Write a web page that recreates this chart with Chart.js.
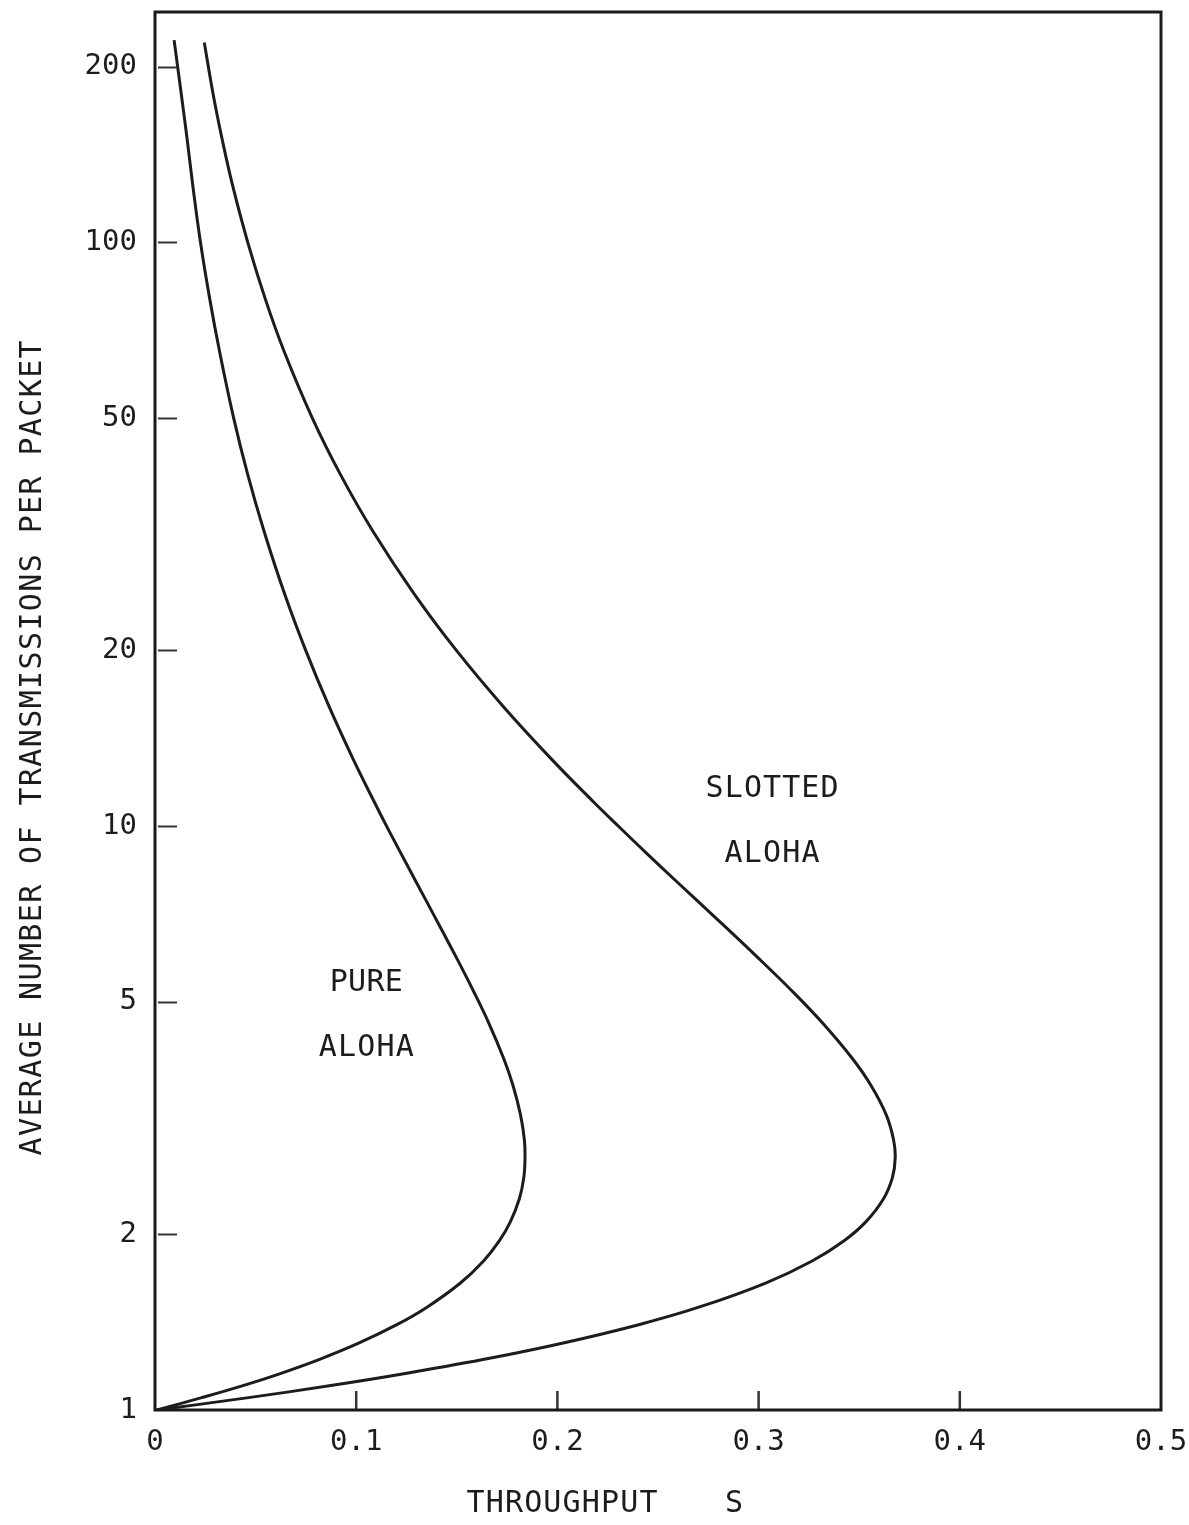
<!DOCTYPE html>
<html>
<head>
<meta charset="utf-8">
<script src="https://cdn.jsdelivr.net/npm/chart.js@4.4.1/dist/chart.umd.min.js"></script>
<style>
  html, body { margin: 0; padding: 0; background: #ffffff; }
  #wrap { width: 1189px; height: 1525px; position: relative; }
</style>
</head>
<body>
<div id="wrap"><canvas id="c" width="1189" height="1525"></canvas></div>
<script>
// Axis ticks
const yTicks = [1, 2, 5, 10, 20, 50, 100, 200];
const xTicks = [0, 0.1, 0.2, 0.3, 0.4, 0.5];
const xTickLabels = ['0', '0.1', '0.2', '0.3', '0.4', '0.5'];

// Pure ALOHA: average transmissions per packet (N) against throughput (S)
const pureN = [222, 180, 150, 125, 100, 80, 65, 50, 40, 32, 25, 20, 16, 13, 11, 10, 9, 8, 7, 6, 5.2, 4.6,
               4.0, 3.6, 3.2, 2.9, 2.7, 2.5, 2.3, 2.1, 1.95, 1.8, 1.65, 1.5, 1.4, 1.3, 1.22, 1.15, 1.1,
               1.05, 1.0];
const pureS = [0.0095, 0.0130, 0.0160, 0.0188, 0.0226, 0.0272, 0.0321, 0.0391, 0.0461, 0.0542, 0.0644,
               0.0749, 0.0866, 0.0986, 0.1090, 0.1151, 0.1221, 0.1300, 0.1390, 0.1493, 0.1585, 0.1659,
               0.1733, 0.1779, 0.1817, 0.1836, 0.1839, 0.1833, 0.1811, 0.1766, 0.1712, 0.1633, 0.1518,
               0.1352, 0.1202, 0.1009, 0.0815, 0.0608, 0.0433, 0.0232, 0.001];

// Slotted ALOHA
const slottedN = [220, 180, 150, 125, 100, 80, 65, 50, 40, 32, 25, 20, 16, 13, 11, 10, 9, 8, 7, 6, 5.2,
                  4.6, 4.0, 3.6, 3.2, 2.9, 2.7, 2.5, 2.3, 2.1, 1.95, 1.8, 1.65, 1.5, 1.4, 1.3, 1.22, 1.15,
                  1.1, 1.05, 1.0];
const slottedS = [0.0245, 0.0288, 0.0334, 0.0386, 0.0461, 0.0548, 0.0642, 0.0782, 0.0922, 0.1083, 0.1288,
                  0.1498, 0.1733, 0.1973, 0.2180, 0.2303, 0.2441, 0.2599, 0.2780, 0.2986, 0.3171, 0.3318,
                  0.3466, 0.3558, 0.3635, 0.3671, 0.3679, 0.3665, 0.3621, 0.3533, 0.3425, 0.3266, 0.3035,
                  0.2703, 0.2404, 0.2018, 0.1630, 0.1215, 0.0866, 0.0465, 0.001];

const curveLabels = [
  { lines: ['PURE', 'ALOHA'], s: 0.105, n: [5.38, 4.17], widths: [73, 95] },
  { lines: ['SLOTTED', 'ALOHA'], s: 0.3067, n: [11.57, 8.95], widths: [133, 95] }
];

const INK = '#1c1c1c';
const MONO = "'DejaVu Sans Mono', 'Liberation Mono', monospace";

function pairs(xs, ys) { return xs.map((x, i) => ({ x: x, y: ys[i] })); }

// Draw a single line of text stretched to a given visible width by letter spacing
function spacedText(ctx, text, cx, cy, width, size) {
  ctx.save();
  ctx.font = size + 'px ' + MONO;
  ctx.fillStyle = INK;
  ctx.textBaseline = 'middle';
  ctx.textAlign = 'left';
  const hasLS = 'letterSpacing' in ctx;
  if (hasLS) ctx.letterSpacing = '0px';
  const w = ctx.measureText(text).width;
  const gap = text.length > 1 ? (width - w) / (text.length - 1) : 0;
  if (hasLS) {
    ctx.letterSpacing = gap.toFixed(2) + 'px';
    ctx.fillText(text, cx - width / 2, cy);
    ctx.letterSpacing = '0px';
  } else {
    ctx.fillText(text, cx - w / 2, cy);
  }
  ctx.restore();
}

const decor = {
  id: 'decor',
  afterDatasetsDraw(chart) {
    const ctx = chart.ctx;
    const a = chart.chartArea;
    const xs = chart.scales.x, ys = chart.scales.y;
    ctx.save();
    // inner tick marks on the left axis
    ctx.strokeStyle = '#333333';
    ctx.lineWidth = 2;
    yTicks.forEach(v => {
      if (v === yTicks[0]) return;
      const py = Math.round(ys.getPixelForValue(v)) + 0.5;
      ctx.beginPath();
      ctx.moveTo(a.left + 3, py);
      ctx.lineTo(a.left + 22, py);
      ctx.stroke();
    });
    // inner tick marks on the bottom axis
    ctx.lineWidth = 2.5;
    xTicks.forEach((v, i) => {
      if (i === 0 || i === xTicks.length - 1) return;
      const px = xs.getPixelForValue(v);
      ctx.beginPath();
      ctx.moveTo(px, a.bottom);
      ctx.lineTo(px, a.bottom - 19);
      ctx.stroke();
    });
    // frame
    ctx.strokeStyle = '#1a1a1a';
    ctx.lineWidth = 3;
    ctx.strokeRect(a.left, a.top, a.right - a.left, a.bottom - a.top);
    ctx.restore();

    // curve names
    curveLabels.forEach(lab => {
      const cx = xs.getPixelForValue(lab.s);
      lab.lines.forEach((t, i) => {
        spacedText(ctx, t, cx, ys.getPixelForValue(lab.n[i]), lab.widths[i], 30);
      });
    });

    // axis titles
    spacedText(ctx, 'THROUGHPUT', 562, 1504, 191, 30);
    spacedText(ctx, 'S', 734, 1504, 18, 30);
    ctx.save();
    ctx.translate(33, 748);
    ctx.rotate(-Math.PI / 2);
    spacedText(ctx, 'AVERAGE NUMBER OF TRANSMISSIONS PER PACKET', 0, 0, 815, 30);
    ctx.restore();
  }
};

const curveStyle = {
  showLine: true,
  borderColor: '#1c1c1c',
  borderWidth: 3,
  pointRadius: 0,
  tension: 0.4,
  fill: false
};

new Chart(document.getElementById('c'), {
  type: 'scatter',
  data: {
    datasets: [
      Object.assign({ label: 'Pure ALOHA', data: pairs(pureS, pureN) }, curveStyle),
      Object.assign({ label: 'Slotted ALOHA', data: pairs(slottedS, slottedN) }, curveStyle)
    ]
  },
  options: {
    responsive: false,
    animation: false,
    devicePixelRatio: 1,
    layout: { padding: { left: 0, top: 12, right: 28, bottom: 0 } },
    plugins: {
      legend: { display: false },
      tooltip: { enabled: false },
      title: { display: false }
    },
    scales: {
      x: {
        type: 'linear',
        min: 0,
        max: 0.5,
        afterBuildTicks(scale) { scale.ticks = xTicks.map(v => ({ value: v })); },
        afterFit(scale) {
          scale.height = 115;
          scale.paddingLeft = 0;
          scale.paddingRight = 0;
        },
        grid: { display: false, drawTicks: false },
        border: { display: false },
        ticks: {
          padding: 15,
          maxRotation: 0,
          autoSkip: false,
          color: INK,
          font: { family: MONO, size: 29 },
          callback(value) {
            const i = xTicks.findIndex(t => Math.abs(t - value) < 1e-9);
            return i >= 0 ? xTickLabels[i] : '';
          }
        }
      },
      y: {
        type: 'logarithmic',
        min: 1,
        max: 248,
        afterBuildTicks(scale) { scale.ticks = yTicks.map(v => ({ value: v })); },
        afterFit(scale) {
          scale.width = 155;
          scale.paddingTop = 0;
          scale.paddingBottom = 0;
        },
        grid: { display: false, drawTicks: false },
        border: { display: false },
        ticks: {
          padding: 18,
          autoSkip: false,
          color: INK,
          font: { family: MONO, size: 29 },
          callback(value) { return String(value); }
        }
      }
    }
  },
  plugins: [decor]
});
</script>
</body>
</html>
